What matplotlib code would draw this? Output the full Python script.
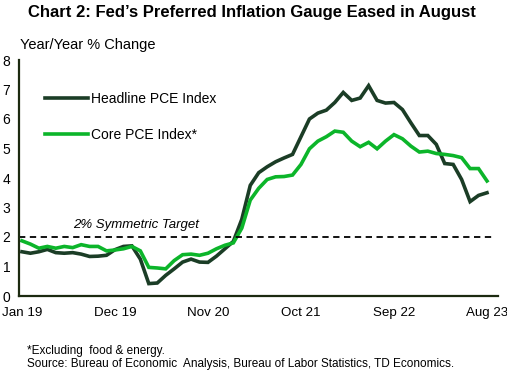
import matplotlib
matplotlib.use("Agg")
import matplotlib.pyplot as plt
import numpy as np

plt.rcParams['font.family'] = ['Liberation Sans', 'DejaVu Sans']

tick_labels = ["Jan 19", "Dec 19", "Nov 20", "Oct 21", "Sep 22", "Aug 23"]
tick_index = [0, 11, 22, 33, 44, 55]

headline = [1.50, 1.45, 1.50, 1.58, 1.47, 1.45, 1.47, 1.42, 1.34, 1.35, 1.38, 1.57,
            1.68, 1.70, 1.25, 0.42, 0.44, 0.70, 0.92, 1.15, 1.25, 1.15, 1.14, 1.35,
            1.60, 1.85, 2.60, 3.75, 4.18, 4.38, 4.55, 4.68, 4.80, 5.40, 6.00, 6.20,
            6.30, 6.56, 6.90, 6.63, 6.71, 7.13, 6.63, 6.54, 6.56, 6.32, 5.87, 5.44,
            5.44, 5.14, 4.49, 4.46, 3.95, 3.20, 3.41, 3.50]
core = [1.87, 1.76, 1.62, 1.68, 1.62, 1.68, 1.64, 1.74, 1.68, 1.68, 1.53, 1.56,
        1.60, 1.68, 1.53, 0.97, 0.95, 0.92, 1.20, 1.40, 1.42, 1.38, 1.45, 1.60,
        1.72, 1.80, 2.30, 3.25, 3.65, 3.95, 4.04, 4.05, 4.10, 4.46, 4.99, 5.25,
        5.40, 5.59, 5.55, 5.25, 5.06, 5.21, 4.99, 5.25, 5.47, 5.33, 5.08, 4.88,
        4.91, 4.83, 4.80, 4.76, 4.69, 4.32, 4.32, 3.90]
target = 2.0

W, H = 507, 371
fig = plt.figure(figsize=(W / 100, H / 100), dpi=100)
left_px, right_px, top_px, bot_px = 18.5, 498, 60, 296
ax = fig.add_axes([left_px / W, 1 - bot_px / H, (right_px - left_px) / W, (bot_px - top_px) / H])

x = np.arange(len(headline))
dark = "#1b3d26"
bright = "#0cb52a"
ax.plot(x, headline, color=dark, lw=2.6, label="Headline PCE Index", solid_joinstyle='miter')
ax.plot(x, core, color=bright, lw=2.6, label="Core PCE Index*", solid_joinstyle='miter')

xl = -0.41
xr = 55 + (right_px - 487) / 8.45
ax.set_xlim(xl, xr)
ax.set_ylim(0, 8)
ax.hlines(target, xl, 55.6, colors="black", linestyles=(0, (3.5, 2.5)), lw=1.3)
ax.text(6.1, 2.22, "2% Symmetric Target", style="italic", fontsize=9.5, va="bottom", ha="left")

ax.set_xticks(tick_index)
ax.set_xticklabels(tick_labels, fontsize=9.6)
ax.set_yticks(range(0, 9))
ax.tick_params(axis='both', length=0)
ax.tick_params(axis='y', labelsize=10, pad=11.5)
ax.tick_params(axis='x', pad=8)
for lab in ax.get_yticklabels():
    lab.set_horizontalalignment('left')

spine_col = "#1c2a10"
for s in ["top", "right"]:
    ax.spines[s].set_visible(False)
for s in ["left", "bottom"]:
    ax.spines[s].set_color(spine_col)
    ax.spines[s].set_linewidth(1.6)

leg = ax.legend(loc="upper left", bbox_to_anchor=((45 - left_px) / (right_px - left_px), (bot_px - 92) / (bot_px - top_px)),
                frameon=False, fontsize=10, handlelength=3.1, labelspacing=1.6, handletextpad=0.2,
                borderpad=0, borderaxespad=0)

fig.text(252 / W, 1 - 13 / H, "Chart 2: Fed\u2019s Preferred Inflation Gauge Eased in August",
         fontsize=12, fontweight="bold", ha="center", va="center")
fig.text(20 / W, 1 - 45 / H, "Year/Year % Change", fontsize=10.5, ha="left", va="center")
fig.text(27 / W, 1 - 351 / H, "*Excluding  food & energy.", fontsize=8.5, ha="left", va="center")
fig.text(27 / W, 1 - 364 / H, "Source: Bureau of Economic  Analysis, Bureau of Labor Statistics, TD Economics.",
         fontsize=8.5, ha="left", va="center")

fig.savefig("out.png", dpi=100)
